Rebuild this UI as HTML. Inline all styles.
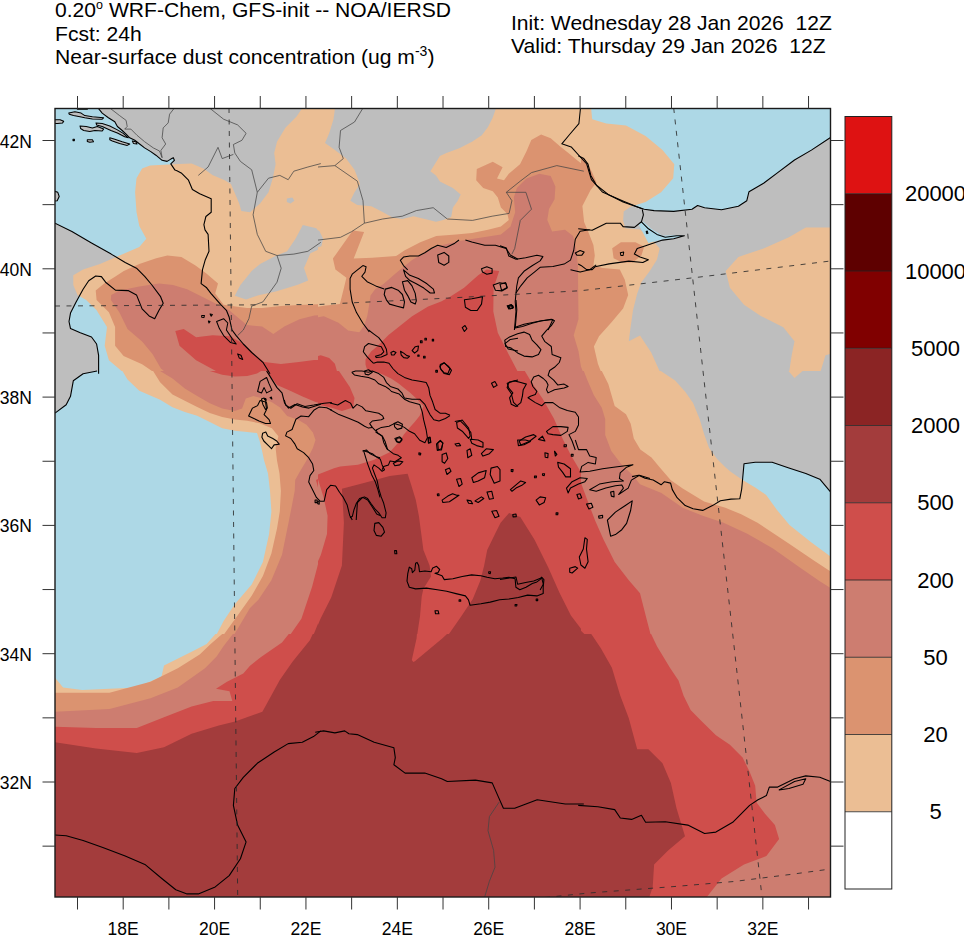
<!DOCTYPE html><html><head><meta charset="utf-8"><style>html,body{margin:0;padding:0;background:#fff;width:964px;height:936px;overflow:hidden}svg{display:block}text{font-family:"Liberation Sans",sans-serif;fill:#000}</style></head><body>
<svg width="964" height="936" viewBox="0 0 964 936">
<defs><clipPath id="mapclip"><rect x="55" y="108.5" width="775.5" height="788.5"/></clipPath>
<clipPath id="t00"><rect x="55" y="108" width="263" height="263"/></clipPath>
<clipPath id="t01"><rect x="318" y="108" width="263" height="263"/></clipPath>
<clipPath id="t02"><rect x="581" y="108" width="263" height="263"/></clipPath>
<clipPath id="t10"><rect x="55" y="371" width="263" height="263"/></clipPath>
<clipPath id="t11"><rect x="318" y="371" width="263" height="263"/></clipPath>
<clipPath id="t12"><rect x="581" y="371" width="263" height="263"/></clipPath>
<clipPath id="t20"><rect x="55" y="634" width="263" height="263"/></clipPath>
<clipPath id="t21"><rect x="318" y="634" width="263" height="263"/></clipPath>
<clipPath id="t22"><rect x="581" y="634" width="263" height="263"/></clipPath>
</defs>
<text x="55" y="17.1" font-size="21.1">0.20<tspan font-size="12.5" dy="-8">o</tspan><tspan dy="8"> WRF-Chem, GFS-init -- NOA/IERSD</tspan></text>
<text x="55" y="41.1" font-size="21.1">Fcst: 24h</text>
<text x="55" y="64.3" font-size="21.1">Near-surface dust concentration (ug m<tspan font-size="14" dy="-8.5">-3</tspan><tspan dy="8.5">)</tspan></text>
<text x="511" y="29.9" font-size="21.1" xml:space="preserve">Init: Wednesday 28 Jan 2026  12Z</text>
<text x="511" y="53.1" font-size="21.1" xml:space="preserve">Valid: Thursday 29 Jan 2026  12Z</text>
<g clip-path="url(#mapclip)">
<rect x="55" y="108.5" width="775.5" height="788.5" fill="#ADD8E6"/>
<g clip-path="url(#t00)">
<path fill="#BEBEBE" d="M52.2,221.8 L71.9,231.6 L91.5,242.9 L111.2,254.1 L125.2,262.5 L136.5,268.2 L144.9,276.6 L151.9,285.0 L160.4,296.3 L163.2,303.3 L159.0,310.3 L154.7,318.7 L149.1,315.9 L142.1,308.9 L139.3,301.9 L136.5,294.9 L128.1,290.6 L115.4,290.1 L105.6,282.2 L101.4,276.6 L95.7,276.0 L88.7,280.8 L83.1,289.2 L76.1,301.9 L70.5,313.1 L69.0,321.5 L70.5,328.6 L80.3,332.8 L91.5,337.0 L96.6,344.0 L98.6,355.3 L98.6,373.8 L52.2,373.8Z M97.1,105.2 L98.0,108.0 L102.2,113.1 L108.4,117.8 L114.8,121.8 L117.4,126.5 L122.2,130.5 L126.1,134.1 L129.7,137.8 L134.8,140.3 L139.6,144.0 L144.6,147.9 L150.8,151.6 L155.9,155.2 L162.1,160.3 L167.1,161.4 L170.8,159.1 L173.3,157.7 L174.4,160.3 L170.8,163.9 L175.0,170.1 L176.9,170.7 L181.2,172.9 L188.5,180.2 L192.4,189.5 L199.7,193.7 L211.2,198.8 L211.2,212.2 L205.9,216.5 L203.9,224.6 L205.0,229.9 L208.1,234.4 L209.0,251.3 L205.3,259.7 L202.5,269.6 L201.1,283.6 L206.7,287.8 L210.9,293.4 L220.8,304.7 L226.4,310.3 L229.2,317.3 L232.0,330.0 L236.2,335.6 L243.3,344.0 L251.7,352.5 L262.9,362.3 L270.0,373.8 L320.8,373.8 L320.8,105.2Z"/>
<path fill="#EBBE94" d="M125.2,373.8 L123.6,372.7 L108.9,360.3 L104.7,345.7 L107.0,326.9 L96.6,310.3 L86.2,299.9 L77.5,294.9 L73.3,285.0 L73.3,275.2 L83.1,269.6 L100.0,263.9 L119.6,255.5 L139.3,247.1 L146.3,238.7 L139.3,226.0 L136.5,212.0 L135.1,192.3 L136.5,178.2 L142.1,168.4 L150.0,165.6 L173.0,164.2 L191.6,163.4 L203.9,168.7 L212.4,174.9 L224.7,180.2 L230.9,184.1 L235.1,193.7 L239.3,203.8 L241.3,211.1 L250.0,212.2 L260.1,203.5 L268.5,192.3 L272.8,178.2 L275.6,164.2 L274.2,153.0 L277.0,141.7 L285.4,127.7 L296.6,116.4 L302.3,108.0 L302.3,105.2 L320.8,105.2 L320.8,373.8Z"/>
<path fill="#BEBEBE" d="M234.8,295.7 L240.4,285.0 L251.7,271.0 L260.1,263.9 L274.4,256.4 L287.1,251.3 L295.5,238.7 L302.8,224.9 L316.3,228.3 L320.8,234.4 L320.8,248.5 L310.4,253.3 L304.0,267.9 L308.2,280.5 L297.8,284.7 L276.7,291.2 L257.6,295.4 L246.1,299.6Z M286.8,198.5 L292.4,197.4 L294.4,200.7 L290.5,203.5 L286.8,202.1Z"/>
<path fill="#DB9370" d="M156.2,373.8 L154.5,372.7 L142.1,364.3 L123.6,356.1 L115.1,345.7 L115.1,326.9 L108.9,312.3 L96.6,299.9 L95.7,290.6 L104.2,283.6 L115.4,276.6 L123.8,271.0 L139.3,263.9 L156.2,258.3 L167.4,255.5 L181.4,256.9 L195.5,265.4 L206.7,273.8 L218.0,283.6 L215.2,293.4 L223.6,304.7 L232.0,306.1 L246.9,308.1 L262.1,308.1 L280.9,306.1 L298.9,305.0 L320.8,304.1 L320.8,373.8Z"/>
<path fill="#CD7D70" d="M167.4,373.8 L160.9,368.5 L152.5,353.9 L142.1,341.5 L127.5,329.1 L119.3,312.3 L110.9,299.9 L111.2,294.9 L119.6,290.6 L139.3,286.4 L159.0,283.6 L173.0,285.0 L187.1,289.2 L201.1,296.3 L218.0,304.7 L229.2,310.3 L246.9,324.9 L262.1,326.6 L273.3,333.9 L284.3,326.6 L299.5,319.3 L314.3,315.4 L320.8,315.1 L320.8,373.8Z"/>
<path fill="#CF4E4B" d="M175.3,331.1 L183.7,329.1 L196.1,337.3 L212.6,335.3 L230.1,336.2 L243.0,343.5 L255.1,354.7 L264.1,362.0 L280.9,364.0 L298.9,362.0 L314.1,360.0 L320.8,360.0 L320.8,373.8 L221.1,373.8 L196.1,360.3 L179.5,345.7Z"/>
</g>
<g clip-path="url(#t01)">
<path fill="#EBBE94" d="M315.2,105.2 L583.8,105.2 L583.8,373.8 L315.2,373.8Z"/>
<path fill="#BEBEBE" d="M335.4,105.2 L333.5,119.2 L329.2,133.3 L325.0,143.1 L334.9,150.1 L346.1,158.6 L354.5,169.8 L360.1,183.9 L354.5,192.3 L350.3,200.7 L357.3,204.9 L371.4,206.3 L382.6,212.0 L392.5,217.6 L402.3,219.0 L413.5,216.2 L424.8,219.0 L436.0,221.8 L443.3,220.1 L451.2,217.0 L452.9,207.5 L457.6,201.0 L460.7,194.5 L452.9,188.1 L439.9,181.6 L436.0,175.4 L430.4,171.2 L439.9,156.0 L446.4,153.0 L459.3,148.2 L472.0,141.7 L481.8,135.3 L488.0,127.1 L492.8,117.6 L496.1,108.0 L496.7,105.2Z M315.2,228.8 L319.4,231.1 L323.1,238.7 L321.4,246.2 L315.2,247.9Z"/>
<path fill="#DB9370" d="M315.2,373.8 L315.2,307.2 L323.9,305.8 L339.9,304.1 L344.1,287.3 L346.4,277.7 L335.4,269.6 L332.9,258.6 L352.8,230.5 L364.1,231.9 L353.7,258.6 L372.2,257.8 L396.1,256.1 L404.3,250.5 L420.3,242.3 L436.3,236.1 L456.0,234.4 L472.0,233.0 L488.0,229.7 L500.9,226.6 L508.8,220.1 L507.4,213.9 L500.9,207.5 L497.8,197.6 L492.8,191.2 L483.2,188.1 L476.2,180.2 L476.8,169.0 L492.8,161.7 L502.6,167.3 L497.0,178.5 L504.0,180.2 L508.8,173.8 L520.0,164.2 L526.5,151.3 L531.3,140.0 L541.1,134.4 L550.7,138.3 L560.2,146.5 L568.4,153.0 L576.2,159.4 L584.1,165.6 L583.8,373.8Z"/>
<path fill="#CD7D70" d="M315.2,373.8 L315.2,317.9 L323.9,316.2 L338.5,322.7 L348.1,330.5 L359.3,332.2 L364.1,325.8 L367.2,316.2 L368.9,306.4 L370.5,295.4 L375.3,289.0 L383.2,284.2 L396.1,272.9 L412.1,260.0 L428.1,250.5 L439.4,245.7 L459.3,240.9 L480.1,237.8 L500.9,234.4 L510.5,226.6 L515.2,212.2 L513.8,197.6 L516.9,188.1 L526.5,178.5 L539.4,173.8 L550.7,176.0 L555.4,186.4 L554.6,199.3 L549.0,208.9 L547.3,220.1 L552.1,231.4 L565.0,229.7 L573.1,236.1 L576.2,249.1 L577.9,265.4 L578.5,319.3 L573.7,335.3 L578.5,351.3 L582.1,373.8 L583.8,373.8Z"/>
<path fill="#CF4E4B" d="M371.1,373.8 L366.6,368.2 L365.5,364.5 L365.5,359.5 L371.1,351.6 L377.0,346.6 L382.1,341.5 L388.5,335.0 L396.1,329.1 L412.1,316.2 L428.1,306.4 L441.1,301.6 L450.1,296.8 L464.1,287.8 L478.2,275.2 L486.6,269.6 L499.2,271.0 L493.6,287.8 L493.3,311.4 L497.8,332.8 L508.5,354.1 L518.9,373.8Z M315.2,356.7 L320.8,355.3 L329.2,358.1 L334.9,363.7 L337.7,373.8 L315.2,373.8Z"/>
</g>
<g clip-path="url(#t02)">
<path fill="#BEBEBE" d="M578.2,155.8 L583.8,158.6 L588.0,164.2 L590.8,175.4 L596.5,185.3 L609.1,195.1 L623.1,202.1 L637.2,206.9 L644.2,209.2 L654.1,210.6 L673.7,211.4 L692.0,209.2 L697.6,205.5 L704.6,207.7 L721.5,209.7 L738.4,206.3 L746.8,200.7 L749.0,191.7 L763.6,183.3 L777.7,172.6 L794.5,160.0 L811.4,150.1 L830.5,137.5 L846.8,133.3 L846.8,373.8 L578.2,373.8Z"/>
<path fill="#EBBE94" d="M578.2,105.2 L590.8,105.2 L592.2,119.2 L606.3,123.5 L626.0,125.4 L645.6,136.1 L662.5,150.1 L674.3,164.2 L673.2,178.2 L661.1,192.3 L645.6,202.1 L630.2,206.9 L623.7,211.4 L623.1,220.4 L625.4,228.3 L640.0,229.4 L651.2,238.7 L659.7,248.5 L656.9,259.7 L649.8,271.0 L641.4,282.2 L637.2,293.4 L633.0,310.3 L630.2,330.0 L628.8,341.2 L640.0,335.6 L651.2,352.5 L660.8,373.8 L578.2,373.8Z M846.8,228.8 L830.5,227.4 L805.8,227.4 L788.9,237.3 L763.6,248.5 L738.4,256.9 L725.7,271.0 L729.9,287.8 L744.0,304.7 L760.8,315.9 L783.3,327.2 L794.5,341.2 L791.7,355.3 L788.9,373.8 L819.8,373.8 L825.5,355.3 L846.8,349.6Z"/>
<path fill="#ADD8E6" d="M638.6,224.6 L643.4,221.8 L651.2,228.8 L662.5,235.8 L676.5,235.0 L684.4,235.8 L670.9,238.7 L659.7,240.1 L648.4,242.9Z"/>
<path fill="#DB9370" d="M578.2,154.4 L583.8,158.6 L588.0,164.2 L592.2,172.6 L596.5,182.5 L590.6,190.0 L582.4,206.1 L584.1,222.1 L588.9,233.6 L593.4,245.1 L594.8,255.5 L593.4,265.6 L602.6,267.9 L619.8,269.6 L624.8,279.7 L628.2,295.1 L623.1,308.6 L611.1,322.7 L599.0,336.2 L593.9,346.6 L597.9,363.7 L601.8,373.8 L602.4,380.0 L578.2,380.0Z M612.2,248.2 L620.9,242.3 L635.5,242.3 L644.2,246.8 L641.4,255.5 L632.7,262.5 L622.3,262.5 L613.6,258.3Z"/>
<path fill="#CD7D70" d="M578.2,360.9 L581.0,366.8 L583.8,373.8 L578.2,373.8Z"/>
</g>
<g clip-path="url(#t10)">
<path fill="#BEBEBE" d="M52.2,368.2 L97.1,368.2 L94.3,371.0 L83.1,373.8 L73.3,380.8 L70.5,396.3 L66.2,404.7 L57.8,410.3 L52.2,414.6Z"/>
<path fill="#EBBE94" d="M121.0,368.2 L122.4,371.0 L127.5,379.4 L139.3,390.7 L160.1,399.7 L172.5,407.2 L184.8,412.0 L197.2,415.7 L209.8,421.9 L222.2,428.3 L234.8,430.8 L247.2,432.0 L257.0,433.1 L259.6,440.7 L262.1,451.1 L264.1,460.6 L268.0,473.6 L270.0,491.0 L271.4,511.5 L269.1,534.0 L262.9,562.1 L251.7,584.5 L234.8,604.2 L223.6,621.1 L215.4,636.8 L320.8,636.8 L320.8,368.2Z"/>
<path fill="#DB9370" d="M150.5,368.2 L153.1,371.0 L160.1,382.2 L172.5,394.6 L184.8,400.8 L197.2,407.0 L209.8,413.1 L222.2,417.1 L234.8,419.6 L247.2,420.7 L259.6,423.3 L271.9,428.3 L278.4,436.2 L275.6,448.0 L277.0,460.6 L279.5,473.6 L280.9,491.0 L279.8,511.5 L277.0,528.4 L271.4,553.6 L262.9,576.1 L251.7,595.8 L237.6,615.5 L222.2,636.8 L320.8,636.8 L320.8,368.2Z"/>
<path fill="#CD7D70" d="M159.0,368.2 L160.1,371.0 L172.5,378.6 L184.8,388.4 L197.2,396.0 L209.8,403.3 L222.2,408.4 L234.8,410.9 L242.1,408.4 L245.8,398.5 L253.4,396.0 L263.2,398.5 L271.9,402.2 L280.1,407.5 L287.1,416.0 L297.5,419.6 L306.5,424.7 L312.9,432.5 L315.5,440.1 L312.9,448.0 L306.5,460.6 L299.5,472.2 L295.2,480.0 L294.7,491.0 L292.4,503.1 L288.5,522.7 L282.0,554.8 L271.4,580.3 L258.4,599.7 L250.0,608.1 L232.9,636.8 L320.8,636.8 L320.8,368.2Z"/>
<path fill="#CF4E4B" d="M208.1,368.2 L209.8,371.0 L222.2,374.7 L234.8,376.6 L247.2,376.1 L257.0,373.5 L265.7,368.2Z M266.6,368.2 L266.6,371.0 L277.0,385.0 L289.6,390.4 L302.5,396.6 L315.5,401.9 L320.8,403.0 L320.8,368.2Z M320.8,477.8 L316.0,480.0 L321.9,503.1 L327.0,512.1 L327.0,533.4 L320.5,554.8 L312.1,586.8 L301.4,618.8 L288.8,636.8 L320.8,636.8Z"/>
<path fill="#A33C3C" d="M320.8,615.5 L320.0,618.8 L312.7,636.8 L320.8,636.8Z"/>
</g>
<g clip-path="url(#t11)">
<path fill="#CD7D70" d="M315.2,368.2 L583.8,368.2 L583.8,636.8 L315.2,636.8Z"/>
<path fill="#CF4E4B" d="M315.2,368.2 L583.8,368.2 L583.8,636.8 L315.2,636.8Z"/>
<path fill="#CD7D70" d="M337.1,368.2 L367.2,368.2 L371.1,371.0 L377.0,372.1 L383.2,374.7 L391.1,378.6 L398.6,383.6 L405.1,388.7 L409.9,392.6 L416.3,398.5 L423.6,406.1 L419.7,415.7 L414.7,421.9 L409.3,428.0 L403.7,434.8 L400.6,440.1 L389.7,452.2 L373.6,460.1 L357.9,464.8 L340.2,466.5 L334.0,468.2 L318.0,474.4 L315.2,475.5 L315.2,404.4 L318.0,404.4 L330.6,407.5 L341.9,410.9 L353.1,407.5 L354.5,398.0 L349.8,387.0Z M315.2,475.5 L318.0,479.2 L323.6,497.4 L327.6,515.7 L327.0,534.0 L320.8,555.0 L315.2,567.7Z M523.1,368.2 L531.5,382.2 L542.8,399.1 L554.0,418.8 L562.5,438.4 L570.9,455.3 L581.0,472.2 L583.8,477.8 L583.8,368.2Z"/>
<path fill="#A33C3C" d="M341.9,488.7 L365.8,482.6 L389.7,476.1 L407.6,473.8 L411.0,484.2 L415.8,500.0 L418.9,516.0 L423.4,550.0 L429.6,565.4 L431.0,576.4 L423.4,588.8 L421.7,596.6 L420.0,616.3 L416.9,636.8 L312.9,636.8 L320.5,618.8 L331.2,597.5 L341.9,565.4 L343.9,522.7Z M447.0,636.8 L461.3,616.3 L472.8,598.9 L480.4,580.6 L484.1,565.7 L487.2,550.0 L495.0,534.0 L500.6,522.7 L509.1,512.9 L520.3,517.1 L534.4,539.6 L548.4,567.7 L559.6,593.0 L570.9,615.5 L583.8,632.3 L583.8,636.8Z"/>
</g>
<g clip-path="url(#t12)">
<path fill="#BEBEBE" d="M578.2,368.2 L846.8,368.2 L846.8,494.6 L830.5,491.8 L819.8,479.2 L805.8,473.6 L788.9,467.9 L772.1,462.3 L755.2,462.3 L744.0,463.7 L742.6,479.2 L741.7,489.0 L739.8,498.8 L731.0,499.1 L720.4,500.8 L712.5,505.6 L702.7,510.4 L693.1,508.7 L685.2,505.6 L677.1,497.7 L672.3,489.6 L670.6,483.1 L664.5,481.7 L661.1,484.8 L653.2,480.0 L645.1,478.3 L638.6,475.2 L632.1,476.6 L609.1,477.8 L578.2,477.8Z"/>
<path fill="#EBBE94" d="M578.2,368.2 L660.8,368.2 L660.8,371.0 L675.1,380.6 L685.2,391.8 L693.1,403.0 L699.6,419.0 L704.4,435.1 L709.1,448.0 L717.3,459.2 L725.1,467.1 L731.0,471.9 L742.6,480.0 L755.2,487.6 L766.2,494.9 L776.8,509.8 L789.5,525.0 L810.8,542.1 L830.5,556.4 L846.8,557.9 L846.8,636.8 L578.2,636.8Z M786.1,368.2 L794.5,378.0 L805.8,368.2Z"/>
<path fill="#DB9370" d="M578.2,368.2 L601.8,368.2 L601.8,371.0 L608.3,383.9 L614.7,406.1 L626.0,414.3 L630.7,423.8 L633.8,438.4 L640.3,449.4 L651.5,457.5 L659.4,467.1 L670.6,480.0 L682.7,488.5 L704.1,501.4 L725.4,507.8 L741.2,514.3 L757.5,522.7 L789.5,544.1 L814.2,560.7 L831.1,571.9 L846.8,572.7 L846.8,636.8 L578.2,636.8Z"/>
<path fill="#CD7D70" d="M578.2,368.2 L583.8,368.2 L583.8,371.0 L587.5,380.6 L593.9,395.2 L601.8,407.8 L605.2,419.0 L605.2,435.1 L611.3,451.1 L621.2,464.0 L633.8,476.6 L640.0,484.2 L661.4,492.9 L682.7,507.8 L702.7,515.7 L723.5,522.7 L746.8,533.4 L772.6,548.3 L800.2,567.7 L819.8,581.2 L830.5,587.9 L846.8,590.2 L846.8,636.8 L578.2,636.8Z"/>
<path fill="#CF4E4B" d="M578.2,475.0 L581.0,483.1 L585.8,496.0 L590.6,508.7 L595.3,521.0 L603.5,539.6 L614.7,562.1 L628.8,580.3 L640.0,593.3 L646.5,618.8 L651.2,636.8 L578.2,636.8Z"/>
<path fill="#A33C3C" d="M578.2,628.1 L587.2,636.8 L578.2,636.8Z"/>
</g>
<g clip-path="url(#t20)">
<path fill="#EBBE94" d="M52.2,676.1 L55.0,677.8 L63.1,687.4 L82.3,689.9 L136.8,687.4 L161.5,676.4 L164.0,665.5 L191.6,651.7 L206.7,644.1 L215.4,634.0 L217.4,631.2 L320.8,631.2 L320.8,899.8 L52.2,899.8Z"/>
<path fill="#DB9370" d="M52.2,692.7 L109.5,692.7 L150.5,681.8 L177.8,668.3 L199.7,654.5 L210.7,644.1 L222.2,634.0 L223.6,631.2 L320.8,631.2 L320.8,899.8 L52.2,899.8Z"/>
<path fill="#CD7D70" d="M52.2,711.8 L109.5,709.0 L150.5,698.3 L177.8,687.4 L205.0,668.3 L216.6,656.5 L223.3,646.6 L232.9,634.0 L234.8,631.2 L320.8,631.2 L320.8,899.8 L52.2,899.8Z"/>
<path fill="#CF4E4B" d="M52.2,726.7 L96.0,728.1 L136.8,728.1 L164.0,717.2 L191.6,706.5 L213.2,700.9 L232.3,700.9 L229.5,691.3 L216.0,688.8 L227.0,681.8 L243.3,673.6 L250.0,665.8 L260.7,657.3 L282.0,642.4 L291.0,631.2 L320.8,631.2 L320.8,899.8 L52.2,899.8Z"/>
<path fill="#A33C3C" d="M52.2,741.9 L96.0,748.6 L136.8,752.9 L164.0,747.2 L191.6,733.7 L218.8,725.6 L235.1,721.4 L262.4,711.8 L279.8,680.1 L292.7,661.5 L309.9,640.2 L314.1,631.2 L320.8,631.2 L320.8,899.8 L52.2,899.8Z"/>
</g>
<g clip-path="url(#t21)">
<path fill="#A33C3C" d="M315.2,631.2 L583.8,631.2 L583.8,899.8 L315.2,899.8Z"/>
<path fill="#CF4E4B" d="M416.9,631.2 L416.9,634.0 L416.6,638.2 L411.8,659.9 L413.3,662.1 L414.9,661.3 L442.5,638.2 L447.0,634.0 L447.8,631.2Z"/>
</g>
<g clip-path="url(#t22)">
<path fill="#CD7D70" d="M578.2,631.2 L846.8,631.2 L846.8,899.8 L578.2,899.8Z"/>
<path fill="#CF4E4B" d="M578.2,631.2 L649.8,631.2 L657.1,646.6 L670.1,668.0 L678.5,680.6 L683.6,695.8 L690.6,709.9 L700.4,720.0 L715.9,735.2 L729.9,744.7 L742.6,757.6 L749.6,771.7 L755.2,785.7 L756.6,802.6 L765.0,813.8 L774.9,825.1 L779.1,839.1 L766.4,856.0 L744.0,864.4 L721.5,878.5 L704.6,899.8 L578.2,899.8Z"/>
<path fill="#A33C3C" d="M578.2,631.2 L589.4,631.2 L600.7,648.0 L611.9,667.7 L620.3,695.8 L628.8,718.3 L637.2,749.2 L648.4,749.2 L662.5,763.3 L670.9,782.9 L676.5,808.2 L685.0,836.3 L668.1,850.4 L654.1,864.4 L652.7,886.9 L648.4,899.8 L578.2,899.8Z"/>
</g>
<polyline fill="none" stroke="#444" stroke-width="0.75" stroke-linejoin="round" points="109.8,108.0 119.6,115.6 126.1,120.4 127.2,126.5 124.7,129.1 130.9,129.1 137.0,135.3 144.6,141.7 153.3,147.9 159.5,151.0 162.1,157.7"/>
<polyline fill="none" stroke="#444" stroke-width="0.75" stroke-linejoin="round" points="174.4,108.0 169.6,114.2 168.2,122.9 163.2,127.9 162.1,137.8 165.7,144.0 160.9,150.4 162.1,157.7"/>
<polyline fill="none" stroke="#444" stroke-width="0.75" stroke-linejoin="round" points="209.5,108.0 223.6,119.2 237.6,124.9 246.1,133.3 241.9,140.3 233.4,144.5 234.8,153.0 240.4,161.4 251.7,169.8 257.3,192.3 253.1,214.8 257.3,234.4 265.7,251.3 277.0,255.5 281.2,268.2 277.0,282.2 262.9,301.9 251.7,306.1 248.9,318.7 243.3,330.0 237.6,335.6"/>
<polyline fill="none" stroke="#444" stroke-width="0.75" stroke-linejoin="round" points="198.3,175.4 208.1,167.0 218.0,147.3 222.2,158.6 233.4,154.4"/>
<polyline fill="none" stroke="#444" stroke-width="0.75" stroke-linejoin="round" points="257.3,192.3 268.5,178.2 279.8,175.4 288.2,179.7 293.8,171.2 307.9,167.0 320.8,163.6"/>
<polyline fill="none" stroke="#444" stroke-width="0.75" stroke-linejoin="round" points="277.0,255.5 293.8,254.1 307.9,251.3 320.8,242.3"/>
<polyline fill="none" stroke="#000" stroke-width="1.1" stroke-linejoin="round" points="55.0,223.2 71.9,231.6 91.5,242.9 111.2,254.1 125.2,262.5 136.5,268.2 144.9,276.6 151.9,285.0 160.4,296.3 163.2,303.3 159.0,310.3 154.7,318.7 149.1,315.9 142.1,308.9 139.3,301.9 136.5,294.9 128.1,290.6 115.4,290.1 105.6,282.2 101.4,276.6 95.7,276.0 88.7,280.8 83.1,289.2 76.1,301.9 70.5,313.1 69.0,321.5 70.5,328.6 80.3,332.8 91.5,337.0 96.6,344.0 98.6,355.3 98.6,373.8"/>
<polyline fill="none" stroke="#000" stroke-width="1.1" stroke-linejoin="round" points="98.0,108.0 102.2,113.1 108.4,117.8 114.8,121.8 117.4,126.5 122.2,130.5 126.1,134.1 129.7,137.8 134.8,140.3 139.6,144.0 144.6,147.9 150.8,151.6 155.9,155.2 162.1,160.3 167.1,161.4 170.8,159.1 173.3,157.7 174.4,160.3 170.8,163.9 175.0,170.1 176.9,170.7 181.2,172.9 188.5,180.2 192.4,189.5 199.7,193.7 211.2,198.8 211.2,212.2 205.9,216.5 203.9,224.6 205.0,229.9 208.1,234.4 209.0,251.3 205.3,259.7 202.5,269.6 201.1,283.6 206.7,287.8 210.9,293.4 220.8,304.7 226.4,310.3 229.2,317.3 232.0,330.0 236.2,335.6 243.3,344.0 251.7,352.5 262.9,362.3 270.0,373.8"/>
<polygon fill="none" stroke="#000" stroke-width="1.05" stroke-linejoin="round" points="216.6,321.5 223.6,318.7 227.8,323.0 226.4,330.0 232.0,338.4 236.2,344.0 230.6,342.6 223.6,335.6 219.4,328.6"/>
<polygon fill="none" stroke="#000" stroke-width="1.05" stroke-linejoin="round" points="201.7,315.4 204.5,315.4 203.9,317.6 201.7,317.3"/>
<polygon fill="none" stroke="#000" stroke-width="1.05" stroke-linejoin="round" points="210.1,314.0 212.4,314.5 211.2,316.2"/>
<polygon fill="none" stroke="#000" stroke-width="1.05" stroke-linejoin="round" points="208.4,321.0 210.1,321.5 209.0,323.0"/>
<polygon fill="none" stroke="#000" stroke-width="1.05" stroke-linejoin="round" points="237.6,353.9 241.0,355.3 242.7,359.5 239.3,358.1"/>
<polygon fill="#BEBEBE" stroke="#000" stroke-width="1.05" stroke-linejoin="round" points="96.0,122.9 102.2,123.5 109.8,126.0 117.4,129.9 123.6,133.6 128.3,137.8 124.7,136.7 117.4,133.0 110.9,130.5 102.2,126.5 96.6,124.9"/>
<polygon fill="#BEBEBE" stroke="#000" stroke-width="1.05" stroke-linejoin="round" points="68.8,113.1 74.9,111.7 81.1,113.1 84.8,115.6 92.4,116.7 103.6,117.8 102.2,119.2 92.4,119.0 84.8,117.8 80.0,116.7 73.5,115.6 69.3,114.2"/>
<polygon fill="#BEBEBE" stroke="#000" stroke-width="1.05" stroke-linejoin="round" points="80.0,126.0 86.2,126.5 92.4,127.9 97.4,126.5 103.6,129.1 102.2,131.0 94.9,130.5 89.8,131.6 83.7,130.5 80.6,128.5"/>
<polygon fill="#BEBEBE" stroke="#000" stroke-width="1.05" stroke-linejoin="round" points="109.8,137.8 114.8,139.2 122.2,141.7 129.7,144.0 127.2,145.4 119.6,143.4 112.3,140.9 109.8,139.8"/>
<polygon fill="#BEBEBE" stroke="#000" stroke-width="1.05" stroke-linejoin="round" points="53.6,119.8 60.1,119.8 63.7,121.2 62.6,122.9 57.5,123.5 53.6,123.5"/>
<polygon fill="#BEBEBE" stroke="#000" stroke-width="1.05" stroke-linejoin="round" points="73.0,139.2 74.4,139.2 74.4,140.6 73.0,140.6"/>
<polygon fill="#BEBEBE" stroke="#000" stroke-width="1.05" stroke-linejoin="round" points="87.3,139.8 92.4,139.8 93.5,141.7 89.8,142.3 87.3,141.4"/>
<polygon fill="#BEBEBE" stroke="#000" stroke-width="1.05" stroke-linejoin="round" points="132.3,140.9 135.9,141.7 137.0,144.0 133.4,143.4"/>
<polygon fill="#BEBEBE" stroke="#000" stroke-width="1.05" stroke-linejoin="round" points="76.1,107.4 88.7,107.4 87.3,109.1 77.5,109.1"/>
<polygon fill="#BEBEBE" stroke="#000" stroke-width="1.05" stroke-linejoin="round" points="53.6,190.9 57.8,192.3 59.2,196.5 57.2,200.7 53.6,201.3"/>
<polyline fill="none" stroke="#444" stroke-width="0.75" stroke-linejoin="round" points="363.0,108.0 354.5,122.0 340.5,130.5 339.1,147.3 343.3,158.6 334.9,165.6 318.0,167.0"/>
<polyline fill="none" stroke="#444" stroke-width="0.75" stroke-linejoin="round" points="334.9,165.6 357.3,181.1 363.0,200.7 364.4,223.2 351.7,231.6 340.5,237.3 318.0,240.1"/>
<polyline fill="none" stroke="#444" stroke-width="0.75" stroke-linejoin="round" points="364.4,223.2 382.6,219.0 402.3,216.2 416.3,210.6 433.2,207.7 447.3,219.0 472.5,220.4 492.2,216.2 509.1,213.4 511.9,200.7 506.3,192.3 525.9,192.3 531.5,209.2 520.3,220.4 514.7,248.5 511.9,254.1"/>
<polyline fill="none" stroke="#444" stroke-width="0.75" stroke-linejoin="round" points="506.3,192.3 520.3,181.1 531.5,172.6 556.8,165.6 583.8,171.2"/>
<polyline fill="none" stroke="#000" stroke-width="1.1" stroke-linejoin="round" points="578.2,155.8 583.8,158.6 588.0,164.2 590.8,175.4 596.5,185.3 609.1,195.1 623.1,202.1 637.2,206.9 644.2,209.2 654.1,210.6 673.7,211.4 692.0,209.2 697.6,205.5 704.6,207.7 721.5,209.7 738.4,206.3 746.8,200.7 749.0,191.7 763.6,183.3 777.7,172.6 794.5,160.0 811.4,150.1 830.5,137.5"/>
<polyline fill="none" stroke="#000" stroke-width="1.1" stroke-linejoin="round" points="578.2,228.8 592.2,230.2 606.3,223.2 620.3,223.2 623.1,226.6 634.4,227.4 641.4,221.8 643.4,214.8 642.3,209.7"/>
<polyline fill="none" stroke="#000" stroke-width="1.1" stroke-linejoin="round" points="641.4,221.8 648.4,228.8 656.9,234.4 665.3,237.3 676.5,235.8 684.4,235.8 673.7,238.7 662.5,240.1 645.6,245.7 637.2,248.5 634.4,254.1 640.0,256.9 648.4,259.7 642.8,262.5 628.8,261.1 609.1,263.9 595.0,266.8 592.2,269.6 586.6,269.6 581.0,265.4 578.2,263.9"/>
<polygon fill="none" stroke="#000" stroke-width="1.05" stroke-linejoin="round" points="620.3,252.7 623.7,252.1 623.1,255.5 620.9,255.5"/>
<polygon fill="none" stroke="#000" stroke-width="1.05" stroke-linejoin="round" points="646.2,231.6 647.3,231.1 647.9,233.3 646.8,233.6"/>
<polyline fill="none" stroke="#000" stroke-width="1.1" stroke-linejoin="round" points="97.1,371.0 83.1,373.8 73.3,380.8 70.5,396.3 66.2,404.7 55.0,413.1"/>
<polyline fill="none" stroke="#000" stroke-width="1.1" stroke-linejoin="round" points="266.6,371.0 269.1,374.9 277.0,387.6 282.0,392.9 284.6,403.0 288.5,408.1 295.0,404.4 302.5,407.0 309.0,408.1 320.8,404.2"/>
<polygon fill="none" stroke="#000" stroke-width="1.05" stroke-linejoin="round" points="248.6,416.0 252.5,408.1 257.6,405.6 260.1,400.5 265.5,401.9 266.6,409.5 264.1,414.6 269.1,419.6 270.5,423.5 265.5,423.5 259.0,421.0 253.9,418.5"/>
<polygon fill="none" stroke="#000" stroke-width="1.05" stroke-linejoin="round" points="261.5,399.1 264.1,398.0 266.6,403.0 267.4,408.1 265.5,409.5 262.9,404.4"/>
<polygon fill="none" stroke="#000" stroke-width="1.05" stroke-linejoin="round" points="257.6,391.5 260.1,381.4 266.6,377.5 269.1,383.9 271.9,390.1 266.6,392.9 264.1,387.6 261.5,392.9"/>
<polygon fill="none" stroke="#000" stroke-width="1.05" stroke-linejoin="round" points="264.3,399.1 265.7,398.5 266.3,400.2"/>
<polygon fill="none" stroke="#000" stroke-width="1.05" stroke-linejoin="round" points="270.0,397.7 271.4,397.1 271.9,399.1"/>
<polyline fill="none" stroke="#000" stroke-width="1.1" stroke-linejoin="round" points="632.1,476.6 638.6,475.2 645.1,478.3 653.2,480.0 661.1,484.8 664.5,481.7 670.6,483.1 672.3,489.6 677.1,497.7 685.2,505.6 693.1,508.7 702.7,510.4 712.5,505.6 720.4,500.8 731.0,499.1 739.8,498.8 741.7,489.0 742.6,479.2 744.0,463.7 755.2,462.3 772.1,462.3 788.9,467.9 805.8,473.6 819.8,479.2 830.5,491.8"/>
<polyline fill="none" stroke="#000" stroke-width="1.1" stroke-linejoin="round" points="52.2,834.9 66.2,835.7 83.1,840.5 102.8,847.5 125.2,856.0 144.9,864.4 161.8,878.5 175.8,889.7 187.1,893.9 198.3,893.9 215.2,886.9 229.2,875.6 240.4,858.8 246.1,841.9 237.6,825.1 233.4,805.4 234.8,788.5 243.3,777.3 257.3,763.3 274.2,752.0 288.2,743.6 302.3,742.2 313.5,736.6 320.8,730.9"/>
<polyline fill="none" stroke="#444" stroke-width="0.75" stroke-linejoin="round" points="499.2,802.0 489.4,816.6 488.0,830.7 493.6,850.4 495.0,867.2 489.4,881.3 483.8,899.8"/>
<polyline fill="none" stroke="#000" stroke-width="1.1" stroke-linejoin="round" points="315.2,732.3 323.6,730.9 334.9,732.9 344.7,730.9 348.9,733.7 357.3,734.6 374.2,742.2 393.9,747.8 395.3,757.6 393.9,764.7 405.1,773.1 424.8,773.1 441.6,778.7 447.3,781.5 475.4,780.1 492.2,782.9 497.8,795.6 503.4,808.2 514.7,808.2 537.2,799.8 565.3,804.0 583.8,804.0"/>
<polyline fill="none" stroke="#000" stroke-width="1.1" stroke-linejoin="round" points="578.2,805.4 597.9,806.8 614.7,809.6 620.3,818.0 631.6,819.4 641.4,815.2 645.6,822.3 665.3,821.7 687.8,825.1 704.6,833.5 715.9,832.1 732.7,822.3 749.6,805.4 758.0,799.8 766.4,795.6 769.3,787.1 777.7,787.1 794.5,778.7 805.8,775.9 819.8,777.3 830.5,781.5"/>
<polygon fill="none" stroke="#000" stroke-width="1.05" stroke-linejoin="round" points="779.1,789.9 794.5,781.5 805.8,778.7 803.0,784.3 788.9,788.5"/>
<polyline fill="none" stroke="#000" stroke-width="1.05" stroke-linejoin="round" points="459.0,240.0 454.8,243.2 446.2,247.5 437.7,245.3 431.2,248.5 424.8,252.8 418.4,256.0 409.9,256.0 403.5,257.1 400.3,260.3 403.5,265.6 407.7,269.9"/>
<polygon fill="none" stroke="#000" stroke-width="1.1" stroke-linejoin="round" points="403.5,269.9 409.9,275.3 418.4,278.5 427.0,283.8 433.4,289.1 434.5,293.0 430.2,293.0 423.8,288.1 416.3,283.8 409.9,280.6 405.6,276.3"/>
<polygon fill="none" stroke="#000" stroke-width="1.1" stroke-linejoin="round" points="402.4,281.7 407.7,280.6 412.0,285.9 415.2,293.4 416.3,300.9 415.2,304.1 410.9,302.0 407.7,295.6 404.5,290.2"/>
<polygon fill="none" stroke="#000" stroke-width="1.1" stroke-linejoin="round" points="385.3,289.1 391.7,287.4 398.1,290.2 402.4,294.5 404.5,302.0 403.5,307.9 397.1,306.2 389.6,304.1 386.4,299.8 384.2,294.5"/>
<polyline fill="none" stroke="#000" stroke-width="1.05" stroke-linejoin="round" points="384.2,289.1 375.7,285.9 367.1,281.7 361.8,276.3 365.0,272.1 366.1,266.7 362.9,265.6 357.5,269.9 352.2,274.2 350.1,278.5 350.1,289.1 352.2,302.0 356.5,312.6 362.9,323.3 369.3,331.9"/>
<polygon fill="none" stroke="#000" stroke-width="1.1" stroke-linejoin="round" points="437.7,255.0 444.1,252.4 448.8,256.0 448.8,262.4 444.1,265.2 438.7,262.4"/>
<polygon fill="none" stroke="#000" stroke-width="1.1" stroke-linejoin="round" points="481.5,268.8 486.8,266.7 492.1,268.8 492.1,273.1 486.8,274.2 482.5,272.1"/>
<polygon fill="none" stroke="#000" stroke-width="1.1" stroke-linejoin="round" points="493.2,284.9 499.6,282.7 506.0,283.8 507.1,288.1 501.8,290.9 495.4,290.2"/>
<polygon fill="none" stroke="#000" stroke-width="1.1" stroke-linejoin="round" points="464.4,299.8 471.8,298.8 477.2,297.7 482.5,296.6 481.5,304.1 477.2,310.5 470.8,310.5 465.4,307.3"/>
<polygon fill="none" stroke="#000" stroke-width="1.1" stroke-linejoin="round" points="462.2,327.6 465.0,325.5 466.9,328.7 464.4,331.5"/>
<polygon fill="none" stroke="#000" stroke-width="1.1" stroke-linejoin="round" points="439.8,366.1 444.1,362.9 448.3,366.1 451.5,370.3 449.4,374.6 444.1,373.5 440.9,369.3"/>
<polygon fill="none" stroke="#000" stroke-width="1.1" stroke-linejoin="round" points="491.5,383.2 494.9,381.5 497.1,385.3 493.6,387.4"/>
<polyline fill="none" stroke="#000" stroke-width="1.05" stroke-linejoin="round" points="518.0,338.3 510.3,339.4 505.0,343.6 508.2,349.0 518.0,351.1"/>
<polyline fill="none" stroke="#000" stroke-width="1.05" stroke-linejoin="round" points="518.0,380.0 509.2,382.1 507.1,387.4 511.4,393.8 513.5,402.4 518.0,406.7"/>
<polyline fill="none" stroke="#000" stroke-width="1.05" stroke-linejoin="round" points="454.8,421.6 460.1,420.6 465.4,425.9 470.8,432.3 471.8,440.0"/>
<polyline fill="none" stroke="#000" stroke-width="1.05" stroke-linejoin="round" points="465.4,240.0 471.8,242.1 484.7,245.3 495.4,245.3 506.0,248.5 510.3,255.0 518.0,259.2"/>
<polygon fill="none" stroke="#000" stroke-width="1.1" stroke-linejoin="round" points="508.2,305.8 511.4,304.5 513.5,307.3 510.3,308.8"/>
<polyline fill="none" stroke="#000" stroke-width="1.05" stroke-linejoin="round" points="500.0,245.7 506.4,248.1 508.8,256.1 516.0,259.3 525.6,257.7 536.9,255.3 542.9,256.6 540.1,260.9 532.1,265.7 524.0,271.3 518.4,277.8 516.8,285.8 516.0,293.0 515.2,301.8 516.0,311.4 515.2,321.0 514.4,330.0"/>
<polyline fill="none" stroke="#000" stroke-width="1.05" stroke-linejoin="round" points="516.0,293.0 520.8,285.8 527.2,277.8 535.3,271.3 540.1,267.3 552.9,266.5 564.1,264.1 570.5,260.1 573.7,250.5 575.3,239.3 580.1,231.3 589.7,229.7"/>
<polyline fill="none" stroke="#000" stroke-width="1.05" stroke-linejoin="round" points="570.5,269.7 580.1,272.1 589.7,269.7 596.2,264.9"/>
<polygon fill="none" stroke="#000" stroke-width="1.1" stroke-linejoin="round" points="575.3,252.9 580.1,250.5 584.1,252.1 581.7,255.3 576.9,255.3"/>
<polygon fill="none" stroke="#000" stroke-width="1.1" stroke-linejoin="round" points="500.0,284.2 505.6,282.6 507.2,287.4 501.6,290.6"/>
<polygon fill="none" stroke="#000" stroke-width="1.1" stroke-linejoin="round" points="507.2,305.8 511.2,305.0 512.8,308.2 508.8,309.0"/>
<polyline fill="none" stroke="#000" stroke-width="1.05" stroke-linejoin="round" points="514.4,327.4 524.0,324.2 540.1,321.0 552.9,319.4 548.1,330.0"/>
<polyline fill="none" stroke="#000" stroke-width="1.05" stroke-linejoin="round" points="516.0,300.0 516.8,309.6 516.0,319.2 515.2,328.0 522.4,326.4 532.1,323.2 541.7,320.8 551.3,319.2 554.5,320.8 551.3,325.6 546.5,330.4 541.7,336.1 544.9,341.7 551.3,346.5 552.1,354.5 560.9,357.7 559.3,362.5 554.5,367.3 549.7,370.5 548.1,375.3 553.7,380.1 557.7,384.9 564.1,384.1 568.1,386.5 564.1,388.1 554.5,389.7 548.1,392.9 546.5,389.7 548.1,384.9 546.5,381.7 543.3,378.5 538.5,375.3 533.7,376.9 531.2,381.7 532.9,386.5 536.9,391.3 535.3,394.6 530.4,396.2 528.0,397.8 535.3,402.6 541.7,405.8 544.9,402.6 552.9,402.6 559.3,407.4 567.3,410.6 575.3,412.2 578.5,417.0 578.5,425.0 575.3,431.4 568.9,434.6 572.1,441.0 575.3,450.0"/>
<polygon fill="none" stroke="#000" stroke-width="1.1" stroke-linejoin="round" points="504.8,340.1 509.6,336.9 517.6,333.7 524.0,332.1 529.6,334.5 532.1,340.1 536.9,344.9 540.9,349.7 538.5,354.5 532.1,356.9 524.0,356.1 517.6,352.9 511.2,348.1 505.6,346.5"/>
<polygon fill="none" stroke="#000" stroke-width="1.1" stroke-linejoin="round" points="507.2,383.3 514.4,380.9 520.8,382.5 526.4,384.1 523.2,389.7 522.4,396.2 520.8,402.6 516.0,406.6 511.2,404.2 509.6,397.8 512.8,392.9 508.8,388.1"/>
<polygon fill="none" stroke="#000" stroke-width="1.1" stroke-linejoin="round" points="519.2,441.0 525.6,437.0 533.7,434.6 536.1,436.2 528.8,441.8 520.8,445.0"/>
<polygon fill="none" stroke="#000" stroke-width="1.1" stroke-linejoin="round" points="538.5,439.4 542.5,436.2 544.9,441.0"/>
<polygon fill="none" stroke="#000" stroke-width="1.1" stroke-linejoin="round" points="508.0,306.4 512.8,305.6 512.8,308.0 508.8,308.3"/>
<polygon fill="none" stroke="#000" stroke-width="1.1" stroke-linejoin="round" points="546.5,431.4 552.9,426.6 560.9,426.6 568.1,427.4 567.3,431.4 560.9,435.4 552.9,434.6 548.1,433.8"/>
<polyline fill="none" stroke="#000" stroke-width="1.05" stroke-linejoin="round" points="575.3,440.0 578.5,449.6 586.5,449.6 589.7,456.0 596.2,457.6 595.4,464.0 588.1,462.4 581.7,466.4 580.1,472.1 589.7,471.2 602.6,468.8 615.4,466.9 633.0,464.8 626.6,467.2 620.2,472.9 619.4,478.5 623.4,480.9 612.2,481.7 599.4,484.1 589.7,489.7 596.2,491.3 605.8,488.1 615.4,485.7 621.8,484.9 623.4,488.1 618.6,494.5 628.2,488.1 631.4,480.1 639.4,475.3 650.0,478.5"/>
<polygon fill="none" stroke="#000" stroke-width="1.1" stroke-linejoin="round" points="607.4,520.1 615.4,512.1 625.0,505.7 632.2,500.9 630.6,510.5 626.6,523.3 621.8,529.7 615.4,534.6 610.6,536.2 609.0,528.1"/>
<polygon fill="none" stroke="#000" stroke-width="1.1" stroke-linejoin="round" points="584.9,537.8 587.3,539.4 586.5,549.0 588.1,561.8 584.9,568.2 580.9,565.0 579.3,557.0 583.3,549.0"/>
<polygon fill="none" stroke="#000" stroke-width="1.1" stroke-linejoin="round" points="569.7,568.2 575.3,566.6 577.7,568.2 572.1,573.0 569.7,572.2"/>
<polygon fill="none" stroke="#000" stroke-width="1.1" stroke-linejoin="round" points="566.5,488.1 572.1,481.7 580.1,477.7 587.3,478.5 584.9,481.7 578.5,484.1 570.5,488.1 568.1,492.9"/>
<polygon fill="none" stroke="#000" stroke-width="1.1" stroke-linejoin="round" points="557.7,462.4 564.1,464.0 570.5,468.8 570.5,476.9 565.7,476.9 562.5,472.1 558.5,467.2"/>
<polygon fill="none" stroke="#000" stroke-width="1.1" stroke-linejoin="round" points="576.9,494.5 580.1,493.7 581.7,497.7 578.5,499.0"/>
<polygon fill="none" stroke="#000" stroke-width="1.1" stroke-linejoin="round" points="586.5,504.1 591.3,503.3 592.9,507.3 588.9,508.9"/>
<polygon fill="none" stroke="#000" stroke-width="1.1" stroke-linejoin="round" points="598.6,516.1 602.6,515.3 602.6,517.7 599.0,518.2"/>
<polygon fill="none" stroke="#000" stroke-width="1.1" stroke-linejoin="round" points="610.6,492.1 613.8,491.3 614.1,496.9 611.4,496.1"/>
<polygon fill="none" stroke="#000" stroke-width="1.1" stroke-linejoin="round" points="510.4,489.7 516.0,484.9 520.8,480.9 525.6,482.5 522.4,484.9 516.0,488.1 512.0,491.3"/>
<polygon fill="none" stroke="#000" stroke-width="1.1" stroke-linejoin="round" points="536.1,500.1 540.1,496.9 545.7,497.7 544.1,502.5 539.3,504.9"/>
<polygon fill="none" stroke="#000" stroke-width="1.1" stroke-linejoin="round" points="517.6,440.0 525.6,440.0 530.4,441.6 524.0,444.8 518.4,445.6"/>
<polygon fill="none" stroke="#000" stroke-width="1.1" stroke-linejoin="round" points="544.9,452.8 548.1,453.6 547.8,457.6 545.2,457.3"/>
<polygon fill="none" stroke="#000" stroke-width="1.1" stroke-linejoin="round" points="554.5,451.2 556.9,454.4 555.3,456.0"/>
<polygon fill="none" stroke="#000" stroke-width="1.1" stroke-linejoin="round" points="511.2,469.6 513.1,469.6 512.8,471.7 511.2,471.4"/>
<polygon fill="none" stroke="#000" stroke-width="1.1" stroke-linejoin="round" points="534.5,476.1 536.5,476.1 536.2,477.8 534.5,477.7"/>
<polygon fill="none" stroke="#000" stroke-width="1.1" stroke-linejoin="round" points="542.5,473.7 544.6,473.7 544.2,475.6 542.5,475.3"/>
<polygon fill="none" stroke="#000" stroke-width="1.1" stroke-linejoin="round" points="556.1,512.9 558.0,512.9 557.7,514.8 556.1,514.7"/>
<polygon fill="none" stroke="#000" stroke-width="1.1" stroke-linejoin="round" points="512.8,514.5 516.0,514.0 516.3,516.6 513.1,516.9"/>
<polygon fill="none" stroke="#000" stroke-width="1.1" stroke-linejoin="round" points="564.1,444.8 566.5,444.8 566.2,446.7 564.1,446.7"/>
<polygon fill="none" stroke="#000" stroke-width="1.1" stroke-linejoin="round" points="571.3,454.4 573.2,454.4 572.9,456.3 571.3,456.2"/>
<polyline fill="none" stroke="#000" stroke-width="1.05" stroke-linejoin="round" points="500.0,579.4 516.0,577.0 517.6,584.2 525.6,582.6 533.7,581.0 541.7,577.8 543.3,584.2 540.1,590.0"/>
<polyline fill="none" stroke="#000" stroke-width="1.05" stroke-linejoin="round" points="375.6,432.0 382.1,436.0 383.7,442.4 386.9,448.8 393.3,453.7 398.1,455.3 401.3,457.7 394.9,461.7 390.1,460.9 388.5,464.9 383.7,466.5 382.1,469.7"/>
<polygon fill="none" stroke="#000" stroke-width="1.1" stroke-linejoin="round" points="394.9,438.4 399.7,436.8 402.1,439.2 399.7,442.4 396.5,441.6"/>
<polygon fill="none" stroke="#000" stroke-width="1.1" stroke-linejoin="round" points="393.3,463.3 398.1,460.9 402.9,461.7 399.7,464.9 394.9,465.7"/>
<polyline fill="none" stroke="#000" stroke-width="1.05" stroke-linejoin="round" points="362.8,450.4 367.6,452.1 372.4,453.7 376.4,456.9 380.4,459.3 382.1,464.9 384.5,469.7 382.1,471.3 378.8,468.1 374.0,464.9 372.4,468.1 374.8,474.5 377.2,480.9 378.8,488.9 381.2,496.9 383.7,503.3 386.1,512.9 385.3,517.8 382.1,517.8 378.8,512.9 375.6,509.7 370.8,503.3 367.6,498.5 364.4,496.9 359.6,498.5 356.4,503.3 354.0,509.7 352.4,516.2 350.0,517.8"/>
<polygon fill="none" stroke="#000" stroke-width="1.1" stroke-linejoin="round" points="374.8,523.4 378.8,522.6 382.9,527.4 384.5,532.2 381.2,536.2 376.4,535.4 374.0,530.6"/>
<polygon fill="none" stroke="#000" stroke-width="1.1" stroke-linejoin="round" points="436.5,444.0 440.5,440.8 442.9,443.2 441.3,448.8 437.3,450.4"/>
<polygon fill="none" stroke="#000" stroke-width="1.1" stroke-linejoin="round" points="442.1,454.5 446.2,452.9 447.8,458.5 444.6,463.3 442.1,461.7"/>
<polygon fill="none" stroke="#000" stroke-width="1.1" stroke-linejoin="round" points="445.4,469.7 449.4,468.1 451.0,471.3 447.0,474.5"/>
<polygon fill="none" stroke="#000" stroke-width="1.1" stroke-linejoin="round" points="456.6,479.3 460.6,478.5 462.2,484.1 459.0,486.5"/>
<polygon fill="none" stroke="#000" stroke-width="1.1" stroke-linejoin="round" points="442.1,500.1 447.8,496.1 452.6,493.7 456.6,495.3 459.0,495.3 454.2,498.5 449.4,501.7 442.9,502.5"/>
<polygon fill="none" stroke="#000" stroke-width="1.1" stroke-linejoin="round" points="467.0,450.4 470.2,448.8 471.8,455.3 467.8,457.7"/>
<polygon fill="none" stroke="#000" stroke-width="1.1" stroke-linejoin="round" points="471.8,477.7 478.2,472.9 486.2,470.5 484.6,477.7 478.2,480.9 473.4,482.5"/>
<polygon fill="none" stroke="#000" stroke-width="1.1" stroke-linejoin="round" points="481.4,453.7 486.2,448.8 493.4,449.6 489.4,453.7 483.0,456.1"/>
<polygon fill="none" stroke="#000" stroke-width="1.1" stroke-linejoin="round" points="487.0,492.1 491.8,491.3 493.4,498.5 489.4,499.3"/>
<polygon fill="none" stroke="#000" stroke-width="1.1" stroke-linejoin="round" points="475.0,500.9 481.4,496.9 483.8,498.5 478.2,502.5"/>
<polygon fill="none" stroke="#000" stroke-width="1.1" stroke-linejoin="round" points="467.0,500.1 471.0,500.9 472.6,503.7 468.6,503.3"/>
<polygon fill="none" stroke="#000" stroke-width="1.1" stroke-linejoin="round" points="491.0,468.1 497.4,466.5 500.0,469.7 500.0,480.9 494.2,483.3 490.2,474.5"/>
<polygon fill="none" stroke="#000" stroke-width="1.1" stroke-linejoin="round" points="491.8,511.3 496.6,510.5 499.0,516.2 495.0,517.8"/>
<polygon fill="none" stroke="#000" stroke-width="1.1" stroke-linejoin="round" points="456.6,422.4 462.2,420.0 468.6,428.0 470.2,436.0 468.6,438.4 462.2,431.2 457.4,428.0"/>
<polygon fill="none" stroke="#000" stroke-width="1.1" stroke-linejoin="round" points="470.2,439.2 478.2,440.0 483.0,442.4 483.0,447.2 476.6,445.6 471.8,443.2"/>
<polygon fill="none" stroke="#000" stroke-width="1.1" stroke-linejoin="round" points="455.0,444.0 459.0,443.2 460.6,445.6 456.6,446.0"/>
<polygon fill="none" stroke="#000" stroke-width="1.1" stroke-linejoin="round" points="428.2,438.4 430.1,437.6 430.9,442.4 428.5,443.2"/>
<polygon fill="none" stroke="#000" stroke-width="1.1" stroke-linejoin="round" points="394.6,550.6 396.5,550.6 396.8,553.8 394.9,553.8"/>
<polygon fill="none" stroke="#000" stroke-width="1.1" stroke-linejoin="round" points="437.3,494.0 438.9,493.7 439.1,495.6 437.5,495.8"/>
<polygon fill="none" stroke="#000" stroke-width="1.1" stroke-linejoin="round" points="418.9,452.9 420.8,453.2 420.5,454.9 418.9,454.6"/>
<polygon fill="none" stroke="#000" stroke-width="1.1" stroke-linejoin="round" points="409.3,587.3 407.0,581.1 407.8,573.3 409.3,567.1 411.7,568.7 412.4,572.6 414.8,570.2 415.6,563.2 417.1,562.4 418.7,565.6 419.5,571.8 424.9,571.0 431.1,571.8 432.7,567.9 436.6,566.3 439.7,569.5 438.1,572.6 435.0,573.3 442.0,575.7 444.3,579.6 452.9,578.8 462.2,576.5 471.6,574.9 480.9,575.7 487.1,577.2 494.9,578.8 502.7,578.0 508.9,577.2 515.1,578.8 515.9,587.3 519.8,589.7 526.0,587.3 532.3,583.5 536.9,581.9 540.0,579.6 541.6,577.2 543.9,579.6 543.2,587.3 543.2,593.6 536.9,595.9 527.6,595.1 518.3,597.5 508.9,599.0 499.6,599.8 490.2,602.1 480.9,603.7 470.0,605.2 468.5,599.8 465.4,595.9 456.0,593.6 446.7,591.2 437.3,589.7 426.5,588.1 415.6,588.9"/>
<polygon fill="none" stroke="#000" stroke-width="1.1" stroke-linejoin="round" points="488.7,571.8 490.6,571.8 490.2,573.7 488.7,573.3"/>
<polygon fill="none" stroke="#000" stroke-width="1.1" stroke-linejoin="round" points="459.1,599.8 460.7,599.8 460.7,601.3 459.1,601.3"/>
<polygon fill="none" stroke="#000" stroke-width="1.1" stroke-linejoin="round" points="515.1,604.5 517.0,604.5 516.7,606.0 515.1,606.0"/>
<polygon fill="none" stroke="#000" stroke-width="1.1" stroke-linejoin="round" points="536.2,599.0 537.7,599.0 537.7,600.6 536.2,600.6"/>
<polygon fill="none" stroke="#000" stroke-width="1.1" stroke-linejoin="round" points="435.0,610.7 438.1,610.7 438.9,613.8 435.5,613.8"/>
<polyline fill="none" stroke="#000" stroke-width="1.05" stroke-linejoin="round" points="284.4,400.0 285.6,405.1 290.8,408.3 297.2,403.8 304.9,406.4 313.8,405.1 324.1,403.2 331.8,402.6"/>
<polyline fill="none" stroke="#000" stroke-width="1.05" stroke-linejoin="round" points="331.8,410.3 326.7,407.7 319.0,407.1 313.8,410.3 308.7,416.7 301.0,416.0 295.9,419.2 292.1,429.5 286.9,432.1 285.6,435.9 290.8,438.5 294.6,443.6 297.2,448.7 303.6,452.6 308.7,457.7 312.6,464.1 313.8,470.5 310.0,475.6 308.7,482.1 311.3,487.2 313.8,492.3 316.4,497.4 320.3,501.3 324.1,501.3 326.7,489.7 330.5,485.3 335.6,485.9 339.5,492.3 343.3,497.4 347.2,505.1 349.7,515.4 352.3,520.0"/>
<polyline fill="none" stroke="#000" stroke-width="1.05" stroke-linejoin="round" points="356.2,520.0 357.4,502.6 362.6,497.4 367.7,500.0 372.8,507.7 376.7,514.1 380.0,515.4"/>
<polyline fill="none" stroke="#000" stroke-width="1.05" stroke-linejoin="round" points="363.8,451.3 367.7,464.1 371.5,474.4 375.4,482.1 377.9,489.7 380.0,497.4"/>
<polyline fill="none" stroke="#000" stroke-width="1.05" stroke-linejoin="round" points="362.6,451.3 366.4,450.0 370.3,453.8 375.4,456.4 380.0,457.7"/>
<polygon fill="none" stroke="#000" stroke-width="1.1" stroke-linejoin="round" points="262.6,433.3 265.8,432.1 267.7,435.9 272.8,438.5 276.7,441.0 279.2,444.2 274.1,444.9 271.5,448.7 267.7,444.9 263.8,441.0 261.9,437.2"/>
<polygon fill="none" stroke="#000" stroke-width="1.1" stroke-linejoin="round" points="315.1,500.0 317.1,500.0 317.1,502.6 315.1,502.6"/>
<polygon fill="none" stroke="#000" stroke-width="1.1" stroke-linejoin="round" points="317.7,501.3 319.2,501.3 319.2,504.1 317.7,503.8"/>
<polyline fill="none" stroke="#000" stroke-width="1.05" stroke-linejoin="round" points="580.5,108.0 578.9,123.6 569.6,134.5 561.8,143.8 571.2,146.9 586.7,164.0 591.4,179.6 602.3,192.0 624.1,201.4 642.7,209.1"/>
<polyline fill="none" stroke="#000" stroke-width="1.05" stroke-linejoin="round" points="368.5,330.0 373.6,333.8 378.7,337.7 383.8,344.1 386.4,349.2 387.1,354.4 381.3,356.9 376.2,357.6 375.5,356.3 381.3,354.4 383.8,351.8 381.3,346.7 376.2,345.4 368.5,343.5 364.6,346.7 363.3,351.8 367.2,356.9 371.0,360.8 373.6,363.3"/>
<polyline fill="none" stroke="#000" stroke-width="1.05" stroke-linejoin="round" points="362.1,371.0 368.5,372.3 372.3,371.0 378.7,373.6 383.8,377.4 386.4,382.6 390.3,386.4 397.9,389.0 401.8,392.8 404.4,397.9 412.1,399.2 419.7,399.2 424.9,404.4 427.4,409.5 430.0,414.6 433.8,419.7 439.0,421.0 445.4,418.5 450.0,415.6"/>
<polyline fill="none" stroke="#000" stroke-width="1.05" stroke-linejoin="round" points="351.8,372.3 354.4,374.9 360.8,376.2 368.5,377.4 374.9,380.0 378.7,383.8 385.1,386.4 389.0,389.0 391.5,391.5 399.2,394.1 404.4,399.2 409.5,401.8 419.7,404.4 422.3,412.1 423.6,419.7 426.2,430.0 427.4,437.7 424.9,442.8 419.7,440.3 414.6,433.8 409.5,431.3 404.4,427.4 399.2,424.9 394.1,423.6 389.0,426.2 381.3,427.4 376.2,430.0 377.4,432.6 382.6,436.4 385.1,441.5 387.7,450.0"/>
<polyline fill="none" stroke="#000" stroke-width="1.05" stroke-linejoin="round" points="373.6,363.3 377.4,362.1 383.8,362.1 389.0,363.3 392.8,368.5 397.9,373.6 404.4,377.4 412.1,380.0 419.7,381.3 426.2,382.6 428.7,387.7 430.0,395.4 432.6,401.8 435.1,409.5 440.3,413.3 445.4,413.3 450.0,415.3"/>
<polyline fill="none" stroke="#000" stroke-width="1.05" stroke-linejoin="round" points="330.0,403.1 337.7,405.0 345.4,400.5 350.5,403.1 353.1,408.2 356.9,404.4 362.1,406.9 365.9,410.8 372.3,412.1 378.7,413.3 382.6,415.9 383.8,418.5 381.3,419.7 372.3,421.0 369.7,423.6 372.3,427.4 376.2,431.3"/>
<polyline fill="none" stroke="#000" stroke-width="1.05" stroke-linejoin="round" points="330.0,409.5 339.0,414.6 349.2,418.5 358.2,422.3 364.6,426.2 368.5,428.1 372.3,427.4"/>
<polyline fill="none" stroke="#000" stroke-width="1.05" stroke-linejoin="round" points="351.8,372.3 355.6,371.0 362.1,371.0"/>
<polygon fill="none" stroke="#000" stroke-width="1.1" stroke-linejoin="round" points="390.9,352.4 393.5,351.2 396.0,352.4 394.1,355.0 391.5,355.0"/>
<polygon fill="none" stroke="#000" stroke-width="1.1" stroke-linejoin="round" points="400.5,351.2 403.7,353.1 406.9,355.6 409.5,356.3 407.6,358.2 403.7,357.6 401.2,355.0"/>
<polygon fill="none" stroke="#000" stroke-width="1.1" stroke-linejoin="round" points="412.1,350.5 415.3,346.7 418.5,346.0 417.8,350.5 414.6,353.1"/>
<polygon fill="none" stroke="#000" stroke-width="1.1" stroke-linejoin="round" points="420.4,340.9 422.1,340.9 422.1,342.8 420.5,342.8"/>
<polygon fill="none" stroke="#000" stroke-width="1.1" stroke-linejoin="round" points="424.9,338.3 426.4,338.3 426.4,340.0 424.9,340.0"/>
<polygon fill="none" stroke="#000" stroke-width="1.1" stroke-linejoin="round" points="432.3,339.2 433.6,339.2 433.6,340.9 432.3,340.9"/>
<polygon fill="none" stroke="#000" stroke-width="1.1" stroke-linejoin="round" points="417.8,355.0 419.1,355.0 419.1,356.3 417.8,356.3"/>
<polygon fill="none" stroke="#000" stroke-width="1.1" stroke-linejoin="round" points="423.6,356.3 425.1,356.3 425.1,357.9 423.6,357.9"/>
<polygon fill="none" stroke="#000" stroke-width="1.1" stroke-linejoin="round" points="440.3,364.6 444.1,362.7 447.3,365.9 450.0,368.5 447.9,373.6 444.1,372.9 440.3,368.5"/>
<polygon fill="none" stroke="#000" stroke-width="1.1" stroke-linejoin="round" points="435.8,370.4 437.4,370.4 437.4,372.1 435.8,372.1"/>
<polygon fill="none" stroke="#000" stroke-width="1.1" stroke-linejoin="round" points="364.6,371.0 368.5,369.7 372.3,372.3 368.5,374.9 365.3,374.2"/>
<polygon fill="none" stroke="#000" stroke-width="1.1" stroke-linejoin="round" points="394.1,423.6 397.9,421.7 402.4,424.2 401.8,428.1 397.3,429.4 394.7,426.8"/>
<polygon fill="none" stroke="#000" stroke-width="1.1" stroke-linejoin="round" points="396.7,438.3 400.5,437.7 401.8,440.3 399.2,442.8 396.7,441.5"/>
<polygon fill="none" stroke="#000" stroke-width="1.1" stroke-linejoin="round" points="428.1,437.7 430.0,437.1 430.3,442.2 428.5,442.8"/>
<polygon fill="none" stroke="#000" stroke-width="1.1" stroke-linejoin="round" points="437.7,442.8 440.3,440.3 442.8,442.8 441.5,450.0 438.3,450.0"/>
<polyline fill="none" stroke="#2a2a2a" stroke-width="0.85" stroke-dasharray="5,6.5" points="229.0,108.0 237.7,897.0"/>
<polyline fill="none" stroke="#2a2a2a" stroke-width="0.85" stroke-dasharray="5,6.5" points="55.0,306.0 318.0,304.5 450.0,298.0 581.0,290.7 700.0,277.0 830.5,261.0"/>
<polyline fill="none" stroke="#2a2a2a" stroke-width="0.85" stroke-dasharray="5,6.5" points="673.7,108.0 703.0,371.0 732.7,634.0 762.0,897.0"/>
<polyline fill="none" stroke="#2a2a2a" stroke-width="0.85" stroke-dasharray="5,6.5" points="545.0,897.5 589.0,893.0 676.0,886.4 734.0,881.5 790.0,874.5 830.5,869.0"/>
</g>
<rect x="55" y="108.5" width="775.5" height="788.5" fill="none" stroke="#1a1a1a" stroke-width="1.4"/>
<path fill="none" stroke="#333" stroke-width="1" d="M77.5,96 V108.5 M77.5,897 V909.5 M123.19,96 V108.5 M123.19,897 V909.5 M168.88,96 V108.5 M168.88,897 V909.5 M214.57,96 V108.5 M214.57,897 V909.5 M260.26,96 V108.5 M260.26,897 V909.5 M305.95,96 V108.5 M305.95,897 V909.5 M351.64,96 V108.5 M351.64,897 V909.5 M397.33,96 V108.5 M397.33,897 V909.5 M443.02,96 V108.5 M443.02,897 V909.5 M488.71,96 V108.5 M488.71,897 V909.5 M534.4,96 V108.5 M534.4,897 V909.5 M580.09,96 V108.5 M580.09,897 V909.5 M625.78,96 V108.5 M625.78,897 V909.5 M671.47,96 V108.5 M671.47,897 V909.5 M717.16,96 V108.5 M717.16,897 V909.5 M762.85,96 V108.5 M762.85,897 V909.5 M808.54,96 V108.5 M808.54,897 V909.5 M42.5,140.5 H55 M830.5,140.5 H843.5 M42.5,204.65 H55 M830.5,204.65 H843.5 M42.5,268.8 H55 M830.5,268.8 H843.5 M42.5,332.95 H55 M830.5,332.95 H843.5 M42.5,397.1 H55 M830.5,397.1 H843.5 M42.5,461.25 H55 M830.5,461.25 H843.5 M42.5,525.4 H55 M830.5,525.4 H843.5 M42.5,589.55 H55 M830.5,589.55 H843.5 M42.5,653.7 H55 M830.5,653.7 H843.5 M42.5,717.85 H55 M830.5,717.85 H843.5 M42.5,782 H55 M830.5,782 H843.5 M42.5,846.15 H55 M830.5,846.15 H843.5"/>
<text x="31.8" y="147.5" font-size="17.5" text-anchor="end">42N</text>
<text x="31.8" y="275.8" font-size="17.5" text-anchor="end">40N</text>
<text x="31.8" y="404.1" font-size="17.5" text-anchor="end">38N</text>
<text x="31.8" y="532.4" font-size="17.5" text-anchor="end">36N</text>
<text x="31.8" y="660.7" font-size="17.5" text-anchor="end">34N</text>
<text x="31.8" y="789" font-size="17.5" text-anchor="end">32N</text>
<text x="123.19" y="934.5" font-size="17.5" text-anchor="middle">18E</text>
<text x="214.57" y="934.5" font-size="17.5" text-anchor="middle">20E</text>
<text x="305.95" y="934.5" font-size="17.5" text-anchor="middle">22E</text>
<text x="397.33" y="934.5" font-size="17.5" text-anchor="middle">24E</text>
<text x="488.71" y="934.5" font-size="17.5" text-anchor="middle">26E</text>
<text x="580.09" y="934.5" font-size="17.5" text-anchor="middle">28E</text>
<text x="671.47" y="934.5" font-size="17.5" text-anchor="middle">30E</text>
<text x="762.85" y="934.5" font-size="17.5" text-anchor="middle">32E</text>
<rect x="845" y="116.5" width="46.8" height="77.25" fill="#DE1212"/>
<rect x="845" y="193.75" width="46.8" height="77.25" fill="#5E0000"/>
<rect x="845" y="271" width="46.8" height="77.25" fill="#800000"/>
<rect x="845" y="348.25" width="46.8" height="77.25" fill="#8B2424"/>
<rect x="845" y="425.5" width="46.8" height="77.25" fill="#A33C3C"/>
<rect x="845" y="502.75" width="46.8" height="77.25" fill="#CF4E4B"/>
<rect x="845" y="580" width="46.8" height="77.25" fill="#CD7D70"/>
<rect x="845" y="657.25" width="46.8" height="77.25" fill="#DB9370"/>
<rect x="845" y="734.5" width="46.8" height="77.25" fill="#EBBE94"/>
<rect x="845" y="811.75" width="46.8" height="77.25" fill="#FFFFFF"/>
<line x1="845" x2="891.8" y1="193.75" y2="193.75" stroke="#222" stroke-width="0.8"/>
<line x1="845" x2="891.8" y1="271" y2="271" stroke="#222" stroke-width="0.8"/>
<line x1="845" x2="891.8" y1="348.25" y2="348.25" stroke="#222" stroke-width="0.8"/>
<line x1="845" x2="891.8" y1="425.5" y2="425.5" stroke="#222" stroke-width="0.8"/>
<line x1="845" x2="891.8" y1="502.75" y2="502.75" stroke="#222" stroke-width="0.8"/>
<line x1="845" x2="891.8" y1="580" y2="580" stroke="#222" stroke-width="0.8"/>
<line x1="845" x2="891.8" y1="657.25" y2="657.25" stroke="#222" stroke-width="0.8"/>
<line x1="845" x2="891.8" y1="734.5" y2="734.5" stroke="#222" stroke-width="0.8"/>
<line x1="845" x2="891.8" y1="811.75" y2="811.75" stroke="#222" stroke-width="0.8"/>
<rect x="845" y="116.5" width="46.8" height="772.5" fill="none" stroke="#222" stroke-width="1"/>
<text x="935.5" y="201.35" font-size="22" text-anchor="middle">20000</text>
<text x="935.5" y="278.6" font-size="22" text-anchor="middle">10000</text>
<text x="935.5" y="355.85" font-size="22" text-anchor="middle">5000</text>
<text x="935.5" y="433.1" font-size="22" text-anchor="middle">2000</text>
<text x="935.5" y="510.35" font-size="22" text-anchor="middle">500</text>
<text x="935.5" y="587.6" font-size="22" text-anchor="middle">200</text>
<text x="935.5" y="664.85" font-size="22" text-anchor="middle">50</text>
<text x="935.5" y="742.1" font-size="22" text-anchor="middle">20</text>
<text x="935.5" y="819.35" font-size="22" text-anchor="middle">5</text>
</svg></body></html>
